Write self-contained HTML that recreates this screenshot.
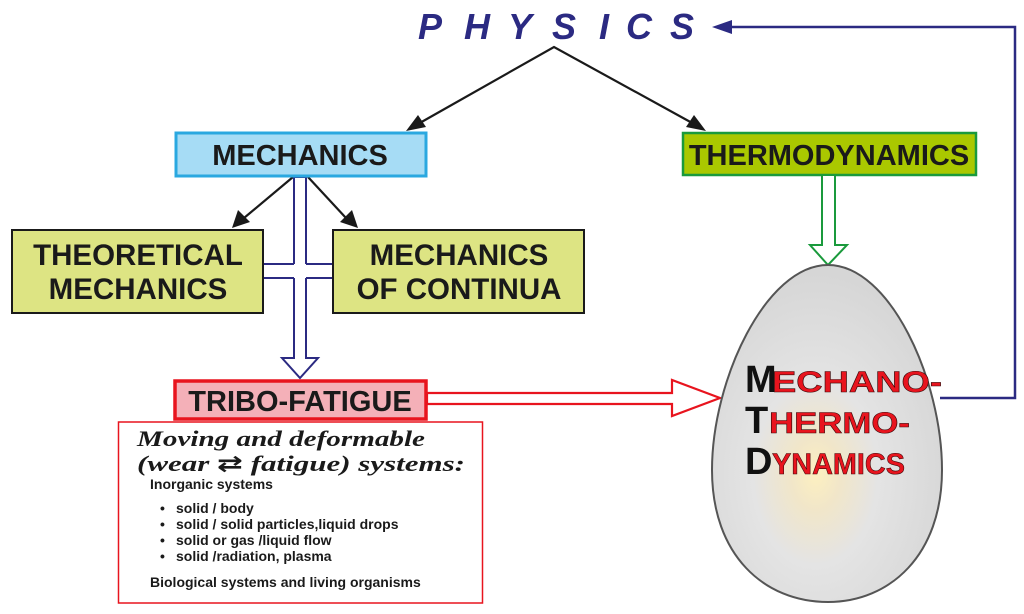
<!DOCTYPE html>
<html><head><meta charset="utf-8"><style>
html,body{margin:0;padding:0;background:#fff;}
svg{display:block;font-family:"Liberation Sans",Arial,sans-serif;}
</style></head><body>
<svg width="1024" height="614" viewBox="0 0 1024 614" xmlns="http://www.w3.org/2000/svg">
<defs>
<radialGradient id="eg" cx="0.45" cy="0.62" r="0.6">
<stop offset="0" stop-color="#fdf0c0"/>
<stop offset="0.18" stop-color="#f1e6c9"/>
<stop offset="0.45" stop-color="#e4e4e4"/>
<stop offset="1" stop-color="#d6d6d6"/>
</radialGradient>
</defs>
<g fill="#2b2a82" font-size="36" font-weight="bold" font-style="italic">
<text x="418" y="39">P</text><text x="464" y="39">H</text><text x="508" y="39">Y</text><text x="552" y="39">S</text><text x="599" y="39">I</text><text x="626" y="39">C</text><text x="670" y="39">S</text>
</g>
<g stroke="#1a1a1a" stroke-width="2.2" fill="none">
<polyline points="418,124 554,47 694,124"/>
<line x1="293" y1="177" x2="244" y2="218"/>
<line x1="308" y1="177" x2="346" y2="218"/>
</g>
<g fill="#1a1a1a">
<polygon points="406,131 418,115 426,127"/>
<polygon points="706,131 686,127 694,115"/>
<polygon points="232,228 238,210 250,222"/>
<polygon points="358,228 340,222 352,210"/>
</g>
<polyline points="940,398 1015,398 1015,27 728,27" fill="none" stroke="#2b2a82" stroke-width="2.5"/>
<polygon points="712,27 732,20 732,34" fill="#2b2a82"/>
<g stroke="#2b2a82" stroke-width="2" fill="#fff">
<polygon points="294,177 294,358 282,358 300,378 318,358 306,358 306,177"/>
</g>
<rect x="262" y="264" width="72" height="14" fill="#fff"/>
<g stroke="#2b2a82" stroke-width="2">
<line x1="262" y1="264" x2="294" y2="264"/><line x1="306" y1="264" x2="334" y2="264"/>
<line x1="262" y1="278" x2="294" y2="278"/><line x1="306" y1="278" x2="334" y2="278"/>
</g>
<rect x="295" y="265" width="10" height="12" fill="#fff"/>
<rect x="176" y="133" width="250" height="43" fill="#a6dcf5" stroke="#2aa8e0" stroke-width="3"/>
<text x="300" y="165" font-size="29" font-weight="bold" text-anchor="middle" fill="#1a1a1a">MECHANICS</text>
<rect x="683" y="133" width="293" height="42" fill="#aac800" stroke="#1a9a3c" stroke-width="2.5"/>
<text x="829" y="165" font-size="29" font-weight="bold" text-anchor="middle" fill="#1a1a1a">THERMODYNAMICS</text>
<rect x="12" y="230" width="251" height="83" fill="#dde483" stroke="#1a1a1a" stroke-width="2"/>
<text x="138" y="265" font-size="29.5" font-weight="bold" text-anchor="middle" fill="#1a1a1a">THEORETICAL</text>
<text x="138" y="299" font-size="29.5" font-weight="bold" text-anchor="middle" fill="#1a1a1a">MECHANICS</text>
<rect x="333" y="230" width="251" height="83" fill="#dde483" stroke="#1a1a1a" stroke-width="2"/>
<text x="459" y="265" font-size="29.5" font-weight="bold" text-anchor="middle" fill="#1a1a1a">MECHANICS</text>
<text x="459" y="299" font-size="29.5" font-weight="bold" text-anchor="middle" fill="#1a1a1a">OF CONTINUA</text>
<polygon points="427,393 672,393 672,380 720,398 672,416 672,404 427,404" fill="#fff" stroke="#e8141e" stroke-width="2.2"/>
<rect x="175" y="381" width="251" height="38" fill="#f4b0b8" stroke="#e8141e" stroke-width="3.5"/>
<text x="300" y="411" font-size="29" font-weight="bold" text-anchor="middle" fill="#1a1a1a">TRIBO-FATIGUE</text>
<rect x="118.5" y="422" width="364" height="181" fill="#fff" stroke="#e8141e" stroke-width="1.5"/>
<g fill="#1a1a1a" font-family="'Liberation Serif',serif" font-weight="bold" font-style="italic" font-size="22">
<text x="137" y="446" textLength="288" lengthAdjust="spacingAndGlyphs">Moving and deformable</text>
<text x="137" y="471" textLength="328" lengthAdjust="spacingAndGlyphs">(wear <tspan font-family="'DejaVu Sans',sans-serif" font-style="normal">⇄</tspan>  fatigue) systems:</text>
</g>
<g fill="#1a1a1a" font-size="14" font-weight="bold">
<text x="150" y="489">Inorganic systems</text>
<text x="160" y="513">•</text><text x="176" y="513">solid / body</text>
<text x="160" y="529">•</text><text x="176" y="529">solid / solid particles,liquid drops</text>
<text x="160" y="545">•</text><text x="176" y="545">solid or gas /liquid  flow</text>
<text x="160" y="561">•</text><text x="176" y="561">solid /radiation, plasma</text>
<text x="150" y="587">Biological systems and living organisms</text>
</g>
<polygon points="822,175 822,245 810,245 828,265 847,245 835,245 835,175" fill="#fff" stroke="#1a9a3c" stroke-width="2"/>
<path d="M828,265 C 890,265 942,380 942,470 C 942,555 890,602 828,602 C 764,602 712,555 712,470 C 712,380 766,265 828,265 Z" fill="url(#eg)" stroke="#555" stroke-width="2"/>
<g font-weight="bold">
<text x="745" y="392" font-size="38" fill="#111">M</text>
<text x="772" y="392" font-size="30" fill="#e8141e" stroke="#3a0a0a" stroke-width="0.6" textLength="170" lengthAdjust="spacingAndGlyphs">ECHANO-</text>
<text x="745" y="433" font-size="38" fill="#111">T</text>
<text x="769" y="433" font-size="30" fill="#e8141e" stroke="#3a0a0a" stroke-width="0.6" textLength="141" lengthAdjust="spacingAndGlyphs">HERMO-</text>
<text x="745" y="474" font-size="38" fill="#111">D</text>
<text x="772" y="474" font-size="30" fill="#e8141e" stroke="#3a0a0a" stroke-width="0.6" textLength="133" lengthAdjust="spacingAndGlyphs">YNAMICS</text>
</g>
</svg>
</body></html>
